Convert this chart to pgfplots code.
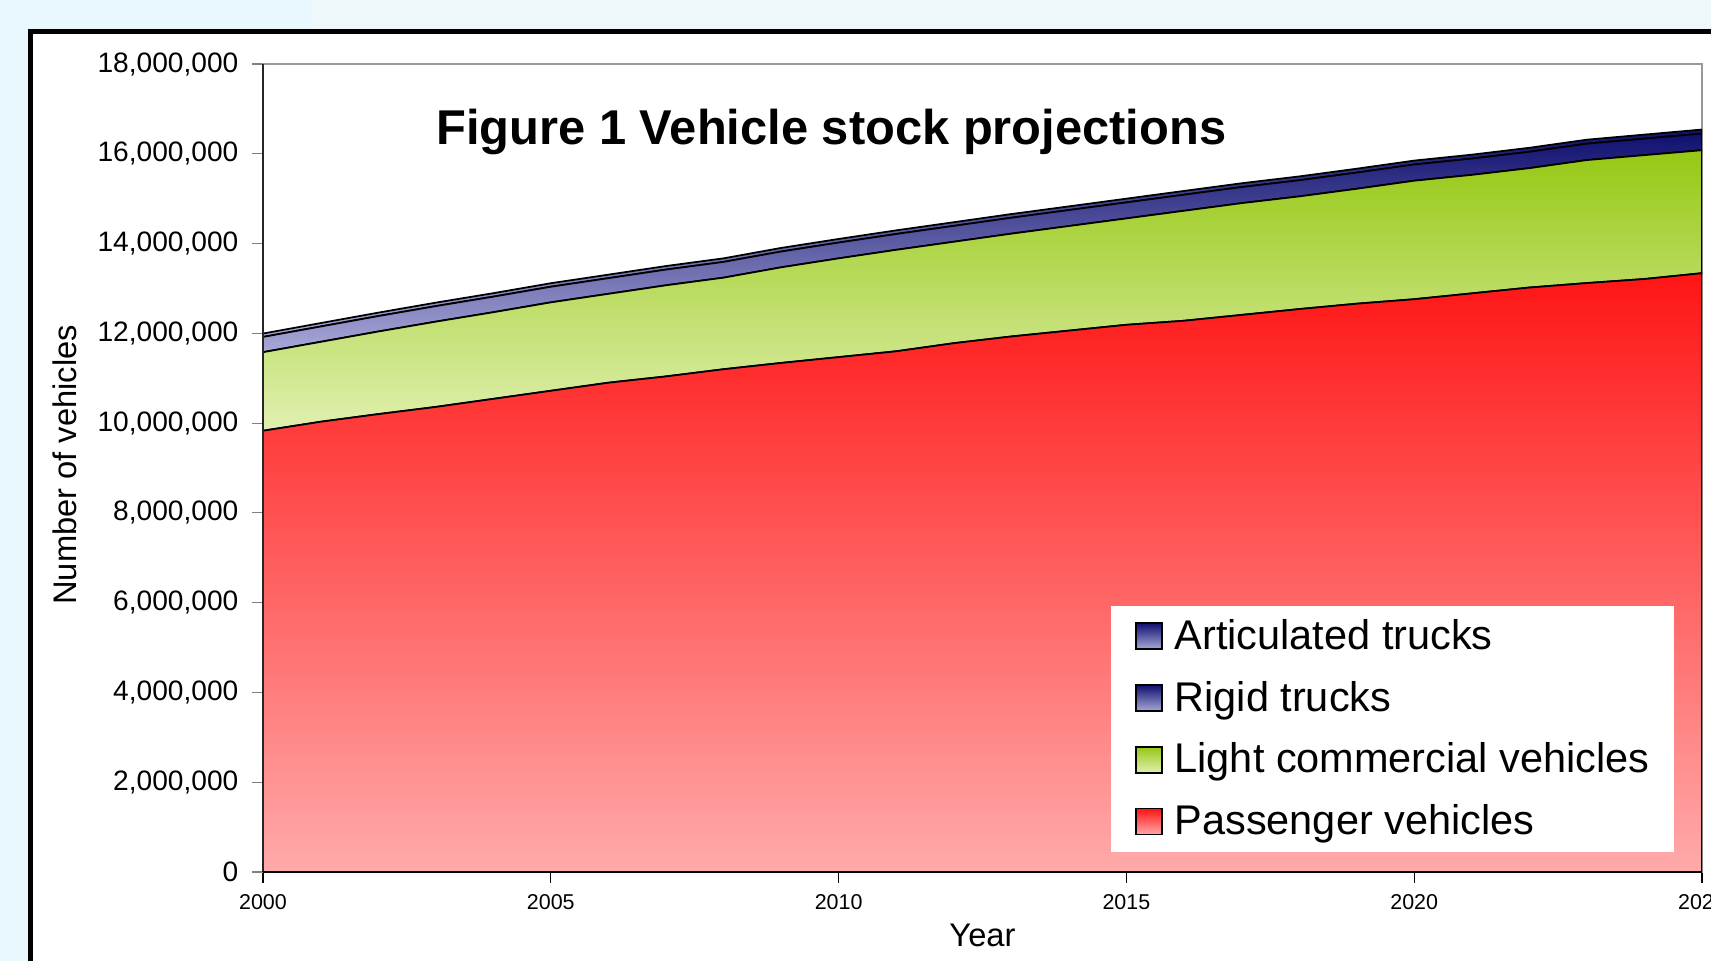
\documentclass[border=0pt]{standalone}
\usepackage{fontspec}
\setmainfont{Liberation Sans}
\usepackage{pgfplots}
\pgfplotsset{compat=1.18}
\usepackage{pgfplotstable}

\definecolor{bgcyan}{HTML}{E8F8FC}
\definecolor{bgtop}{HTML}{EEF7F9}
\definecolor{redtop}{HTML}{FF1515}
\definecolor{redbot}{HTML}{FFAAAA}
\definecolor{grntop}{HTML}{96C814}
\definecolor{grnbot}{HTML}{E0F0B0}
\definecolor{blutop}{HTML}{101070}
\definecolor{blubot}{HTML}{A8A8D8}

% vehicle stock by type
\pgfplotstableread{
year pass lcv rigid artic
2000 9830000 1750000 340000 75000
2001 10030000 1780000 342000 76000
2002 10200000 1840000 344000 76000
2003 10360000 1900000 346000 77000
2004 10540000 1930000 347000 77000
2005 10720000 1970000 348000 78000
2006 10900000 1980000 349000 78000
2007 11040000 2030000 350000 79000
2008 11200000 2040000 351000 79000
2009 11340000 2130000 352000 80000
2010 11470000 2200000 352000 80000
2011 11600000 2260000 353000 81000
2012 11780000 2260000 354000 81000
2013 11930000 2290000 355000 82000
2014 12060000 2330000 356000 82000
2015 12190000 2370000 357000 83000
2016 12280000 2450000 358000 84000
2017 12410000 2490000 359000 84000
2018 12540000 2510000 360000 85000
2019 12660000 2560000 361000 86000
2020 12760000 2640000 362000 86000
2021 12890000 2640000 363000 87000
2022 13020000 2660000 365000 88000
2023 13120000 2740000 366000 88000
2024 13210000 2760000 368000 89000
2025 13340000 2740000 370000 90000
}\stock

\begin{document}
\begin{tikzpicture}
\path[use as bounding box] (0,0) rectangle (17.11cm,9.61cm);
\clip (0,0) rectangle (17.11cm,9.61cm);
\fill[bgcyan] (0,0) rectangle (17.11cm,9.61cm);
\fill[bgtop] (3.11cm,9.31cm) rectangle (17.11cm,9.61cm);
\fill[white] (0.31cm,-1cm) rectangle (18cm,9.295cm);
\draw[line width=0.5mm] (0.31cm,-1cm) -- (0.31cm,9.295cm) -- (18cm,9.295cm);

\begin{axis}[
    at={(2.63cm,0.89cm)}, anchor=south west,
    scale only axis, width=14.39cm, height=8.08cm,
    xmin=2000, xmax=2025, ymin=0, ymax=18000000,
    xtick={2000,2005,...,2025},
    ytick={0,2000000,...,18000000},
    scaled y ticks=false,
    tick pos=left, tick align=outside, major tick length=1.1mm,
    axis line style={draw=black!40, line width=0.12mm},
    y tick style={draw=black!50, line width=0.12mm},
    x tick style={draw=black, line width=0.12mm},
    yticklabel style={font=\fontsize{8}{9}\selectfont, inner sep=0pt, xshift=-1.3mm,
        /pgf/number format/.cd, fixed, 1000 sep={,}, assume math mode=true},
    xticklabel style={font=\fontsize{6.1}{7}\selectfont, inner sep=0pt, yshift=-1.1mm,
        /pgf/number format/.cd, 1000 sep={}, assume math mode=true},
    xlabel={Year},
    ylabel={Number of vehicles},
    xlabel style={font=\fontsize{9.3}{11}\selectfont, at={(rel axis cs:0.5,-0.078)}, anchor=center},
    ylabel style={font=\fontsize{9.3}{11}\selectfont, at={(rel axis cs:-0.1376,0.504)}, anchor=center},
    stack plots=y,
    reverse legend,
    legend image code/.code={\draw[#1,draw=black,line width=0.15mm] (0cm,-1.3mm) rectangle (2.6mm,1.3mm);},
    legend style={at={(0.981,0.0235)}, anchor=south east, draw=none, fill=white,
        font=\fontsize{11.8}{14}\selectfont, inner xsep=2.45mm, inner ysep=2.9pt,
        row sep=6pt, column sep=1.2mm,
        nodes={inner sep=0pt, text height=9.5pt, text depth=2.1pt, anchor=west}},
    legend cell align=left,
    after end axis/.code={
        \draw[black!85, line width=0.15mm] (rel axis cs:0,1) -- (rel axis cs:0,0);
        \draw[black, line width=0.2mm] (rel axis cs:0,0) -- (rel axis cs:1,0);
        \node[anchor=base, font=\fontsize{13.9}{16}\selectfont\bfseries]
            at (rel axis cs:0.395,0.8998) {Figure 1 Vehicle stock projections};
    },
]
\addplot[draw=black, line width=0.5pt, top color=redtop, bottom color=redbot]
    table[x=year, y=pass] {\stock} \closedcycle;
\addplot[draw=black, line width=0.5pt, top color=grntop, bottom color=grnbot]
    table[x=year, y=lcv] {\stock} \closedcycle;
\addplot[draw=black, line width=0.5pt, top color=blutop, bottom color=blubot]
    table[x=year, y=rigid] {\stock} \closedcycle;
\addplot[draw=black, line width=0.5pt, top color=blutop, bottom color=blubot]
    table[x=year, y=artic] {\stock} \closedcycle;
\legend{Passenger vehicles, Light commercial vehicles, Rigid trucks, Articulated trucks}
\end{axis}
\end{tikzpicture}
\end{document}
